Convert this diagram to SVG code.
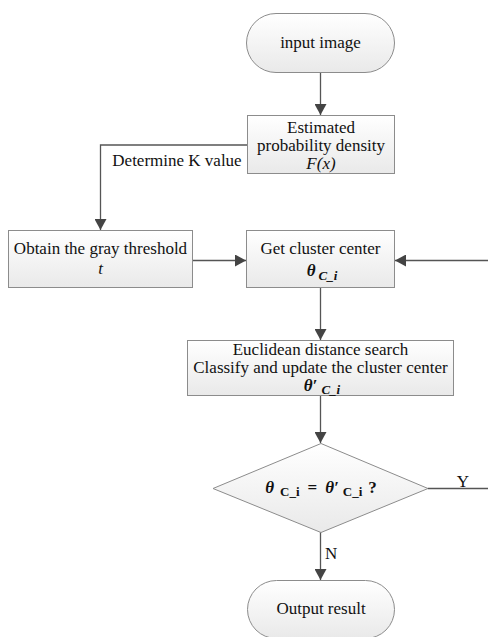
<svg xmlns="http://www.w3.org/2000/svg" width="488" height="637" viewBox="0 0 488 637">
  <style>
    .shape { fill: url(#fillGrad); stroke: #8c8c8c; stroke-width: 1; }
    .edge { fill: none; stroke: #555555; stroke-width: 1.3; }
    text { font-family: "Liberation Serif", "Times New Roman", serif; font-size: 17px; fill: #111111; }
    .mid { text-anchor: middle; }
    .it { font-style: italic; }
    .sub { font-size: 13px; }
    .bold { font-weight: bold; }
  </style>
  <defs>
    <linearGradient id="fillGrad" x1="0" y1="0" x2="0" y2="1">
      <stop offset="0" stop-color="#ffffff"/>
      <stop offset="1" stop-color="#e9e9e9"/>
    </linearGradient>
    <marker id="arrow" markerWidth="12" markerHeight="12" refX="11" refY="6" orient="auto" markerUnits="userSpaceOnUse">
      <path d="M0,0 L11,6 L0,12 Z" fill="#444444"/>
    </marker>
  </defs>
  <rect width="488" height="637" fill="#ffffff"/>

  <g id="connectors">
    <line class="edge" x1="320.5" y1="73" x2="320.5" y2="115" marker-end="url(#arrow)"/>
    <polyline class="edge" points="247,145 100.5,145 100.5,230" marker-end="url(#arrow)"/>
    <line class="edge" x1="193" y1="260.5" x2="246" y2="260.5" marker-end="url(#arrow)"/>
    <line class="edge" x1="488" y1="260.5" x2="395" y2="260.5" marker-end="url(#arrow)"/>
    <line class="edge" x1="320.5" y1="288" x2="320.5" y2="340" marker-end="url(#arrow)"/>
    <line class="edge" x1="320.5" y1="395" x2="320.5" y2="443" marker-end="url(#arrow)"/>
    <line class="edge" x1="428" y1="488.5" x2="488" y2="488.5"/>
    <line class="edge" x1="320.5" y1="532" x2="320.5" y2="580" marker-end="url(#arrow)"/>
    <text x="463" y="487" class="mid">Y</text>
    <text x="325" y="559">N</text>
    <text x="177" y="166" class="mid">Determine K value</text>
  </g>

  <g id="start">
    <rect class="shape" x="246.5" y="13.5" width="148" height="59" rx="29.5" ry="29.5"/>
    <text x="320.5" y="48" class="mid">input image</text>
  </g>

  <g id="density">
    <rect class="shape" x="247.5" y="115.5" width="147" height="58"/>
    <text x="321" y="133" class="mid">Estimated</text>
    <text x="321" y="151" class="mid">probability density</text>
    <text x="321" y="169" class="mid it">F(x)</text>
  </g>

  <g id="threshold">
    <rect class="shape" x="8.5" y="230.5" width="184" height="57"/>
    <text x="100.5" y="254" class="mid">Obtain the gray threshold</text>
    <text x="100.5" y="274" class="mid it">t</text>
  </g>

  <g id="center">
    <rect class="shape" x="246.5" y="230.5" width="148" height="57"/>
    <text x="320.5" y="254" class="mid">Get cluster center</text>
    <text x="322" y="276" class="mid"><tspan class="it bold">θ</tspan><tspan class="sub it bold" dx="3" dy="4">C_i</tspan></text>
  </g>

  <g id="update">
    <rect class="shape" x="187.5" y="340.5" width="266" height="55"/>
    <text x="320.5" y="355" class="mid">Euclidean distance search</text>
    <text x="320.5" y="373" class="mid">Classify and update the cluster center</text>
    <text x="322" y="391" class="mid"><tspan class="it bold">θ′</tspan><tspan class="sub it bold" dx="4" dy="3">C_i</tspan></text>
  </g>

  <g id="check">
    <polygon class="shape" points="321,443.5 428,488.5 321,532.5 213,488.5"/>
    <text x="321" y="493" class="mid"><tspan class="it bold">θ</tspan><tspan class="sub bold" dx="6" dy="3">C_i</tspan><tspan dx="8" dy="-3" class="bold">=</tspan><tspan class="it bold" dx="8">θ′</tspan><tspan class="sub bold" dx="4" dy="3">C_i</tspan><tspan class="bold" dx="6" dy="-3">?</tspan></text>
  </g>

  <g id="end">
    <rect class="shape" x="247.5" y="580.5" width="147" height="58" rx="29" ry="29"/>
    <text x="321" y="614" class="mid">Output result</text>
  </g>
</svg>
